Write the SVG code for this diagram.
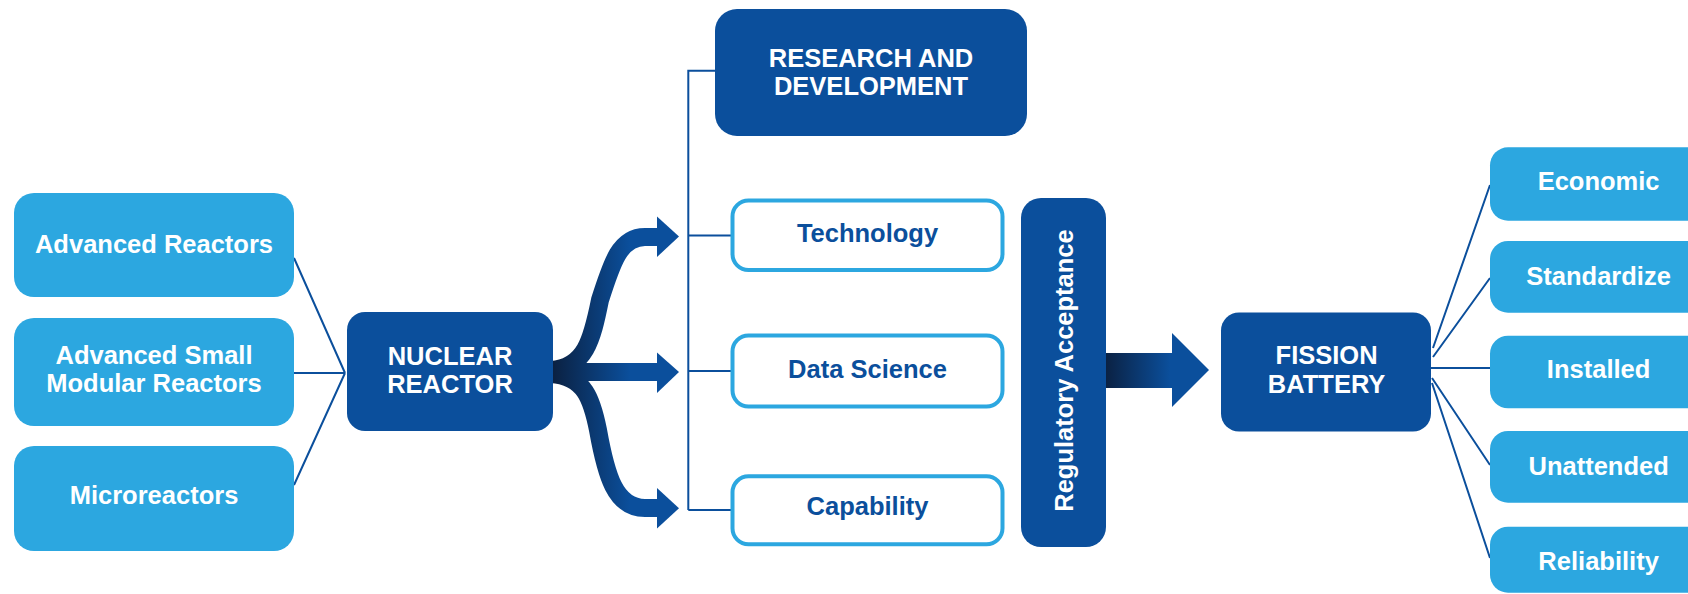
<svg xmlns="http://www.w3.org/2000/svg" width="1688" height="594" viewBox="0 0 1688 594">
<style>
.lt{fill:#2ca7e0}
.dk{fill:#0b4f9c}
.ol{fill:#ffffff;stroke:#2ca7e0;stroke-width:4}
.t{font-family:"Liberation Sans",Arial,sans-serif;font-weight:bold;font-size:25.5px;text-anchor:middle}
.w{fill:#ffffff}
.b{fill:#0b4f9c}
.ln{fill:none;stroke:#0b4f9c;stroke-width:2}
.head{fill:#0b4f9c}
</style>
<defs>
<linearGradient id="g1" gradientUnits="userSpaceOnUse" x1="553" y1="0" x2="630" y2="0">
<stop offset="0" stop-color="#0b2142"/>
<stop offset="1" stop-color="#0b4f9c"/>
</linearGradient>
<linearGradient id="g2" gradientUnits="userSpaceOnUse" x1="1105" y1="0" x2="1170" y2="0">
<stop offset="0" stop-color="#0b2142"/>
<stop offset="1" stop-color="#0b4f9c"/>
</linearGradient>
</defs>

<g id="connectors">
<path class="ln" d="M294,258 L345,373 M294,373 L345,373 M294,485 L345,373"/>
<path class="ln" d="M715,70.7 H688.3 V510 M688.3,235.5 H731 M688.3,371 H731 M688.3,510 H731"/>
<path class="ln" d="M1433,348 L1490,185 M1433,357 L1490,278 M1431,368 L1490,368 M1432,378 L1490,465 M1432,383 L1490,558"/>
<g id="branch-arrows">
<path d="M551,370 C585,368 592,340 600,300 C612,262 620,237 645,237 L660,237" fill="none" stroke="url(#g1)" stroke-width="18"/>
<path d="M551,374 C585,376 592,400 598,430 C606,475 615,508 645,508 L660,508" fill="none" stroke="url(#g1)" stroke-width="18"/>
<path d="M551,372 L660,372" fill="none" stroke="url(#g1)" stroke-width="18"/>
<polygon class="head" points="657,216.5 679,236.5 657,257"/>
<polygon class="head" points="657,352.5 679,372 657,393"/>
<polygon class="head" points="657,488 679,508.3 657,528.5"/>
</g>
<g id="main-arrow">
<rect x="1105" y="353" width="68" height="35" fill="url(#g2)"/>
<polygon class="head" points="1172,333 1209,370 1172,407"/>
</g>
</g>

<g id="advanced-reactors">
<rect class="lt" x="14" y="193" width="280" height="104" rx="20"/>
<text class="t w" x="154" y="252.7">Advanced Reactors</text>
</g>
<g id="advanced-smr">
<rect class="lt" x="14" y="318" width="280" height="108" rx="20"/>
<text class="t w" x="154" y="364.3">Advanced Small</text>
<text class="t w" x="154" y="392.3">Modular Reactors</text>
</g>
<g id="microreactors">
<rect class="lt" x="14" y="446" width="280" height="105" rx="20"/>
<text class="t w" x="154" y="504">Microreactors</text>
</g>
<g id="nuclear-reactor">
<rect class="dk" x="347" y="312" width="206" height="119" rx="18"/>
<text class="t w" x="450" y="365">NUCLEAR</text>
<text class="t w" x="450" y="392.7">REACTOR</text>
</g>
<g id="research-development">
<rect class="dk" x="715" y="9" width="312" height="127" rx="22"/>
<text class="t w" x="871" y="66.7">RESEARCH AND</text>
<text class="t w" x="871" y="95">DEVELOPMENT</text>
</g>
<g id="technology">
<rect class="ol" x="732.5" y="200.5" width="270" height="69.5" rx="16"/>
<text class="t b" x="867.5" y="241.7">Technology</text>
</g>
<g id="data-science">
<rect class="ol" x="732.5" y="335.5" width="270" height="71" rx="16"/>
<text class="t b" x="867.5" y="377.7">Data Science</text>
</g>
<g id="capability">
<rect class="ol" x="732.5" y="476.3" width="270" height="68" rx="16"/>
<text class="t b" x="867.5" y="515">Capability</text>
</g>
<g id="regulatory-acceptance">
<rect class="dk" x="1021" y="198" width="85" height="349" rx="20"/>
<text class="t w" x="1063.5" y="379.7" transform="rotate(-90 1063.5 370.5)">Regulatory Acceptance</text>
</g>
<g id="fission-battery">
<rect class="dk" x="1221" y="312.5" width="210" height="119" rx="18"/>
<text class="t w" x="1326.6" y="364.3">FISSION</text>
<text class="t w" x="1326.6" y="393.3">BATTERY</text>
</g>
<g id="economic">
<rect class="lt" x="1490" y="147.3" width="230" height="73.4" rx="18"/>
<text class="t w" x="1598.6" y="190">Economic</text>
</g>
<g id="standardize">
<rect class="lt" x="1490" y="241" width="230" height="71.7" rx="18"/>
<text class="t w" x="1598.6" y="285">Standardize</text>
</g>
<g id="installed">
<rect class="lt" x="1490" y="335.7" width="230" height="72.6" rx="18"/>
<text class="t w" x="1598.6" y="378.3">Installed</text>
</g>
<g id="unattended">
<rect class="lt" x="1490" y="431" width="230" height="71.7" rx="18"/>
<text class="t w" x="1598.6" y="475">Unattended</text>
</g>
<g id="reliability">
<rect class="lt" x="1490" y="526.7" width="230" height="66" rx="18"/>
<text class="t w" x="1598.6" y="570">Reliability</text>
</g>
</svg>
